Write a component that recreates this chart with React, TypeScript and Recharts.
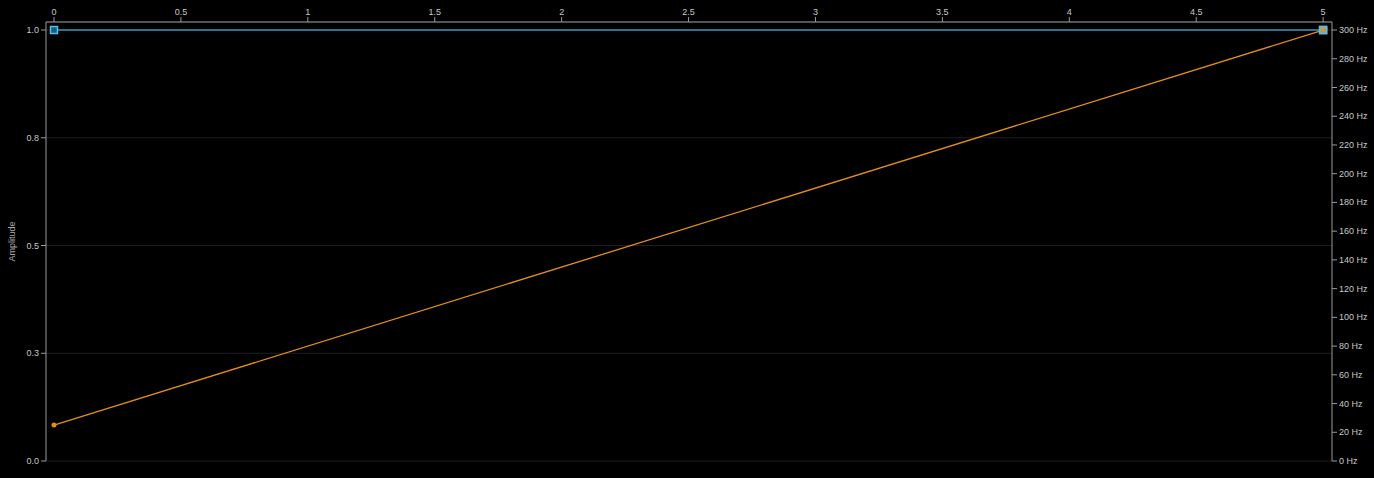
import React from 'react';
import { LineChart, Line, XAxis, YAxis, CartesianGrid } from 'recharts';

const times = [0, 5];
const amplitude = [1, 1];
const frequency = [25, 300];

const timeTicks = [0, 0.5, 1, 1.5, 2, 2.5, 3, 3.5, 4, 4.5, 5];
const ampTicks = [0, 0.25, 0.5, 0.75, 1];
const freqTicks = [0, 20, 40, 60, 80, 100, 120, 140, 160, 180, 200, 220, 240, 260, 280, 300];

const data = times.map((t, i) => ({ t, amp: amplitude[i], freq: frequency[i] }));

const BLUE = '#3a93bd';
const ORANGE = '#e38e1a';
const FONT = 'Liberation Sans, Arial, sans-serif';
const TICK = { fill: '#c8c8c8', fontSize: 9, fontFamily: FONT };

const SquareDot = (props: any) => {
  const { cx, cy } = props;
  if (cx == null || cy == null) return null;
  return <rect x={cx - 3.5} y={cy - 3.5} width={7} height={7} fill="#1d5d7c" stroke="#55bdf0" strokeWidth={1.5} />;
};

const FreqDot = (props: any) => {
  const { cx, cy, index } = props;
  if (cx == null || cy == null) return null;
  if (index === data.length - 1) {
    return <rect x={cx - 3.5} y={cy - 3.5} width={7} height={7} fill="#c99a3c" stroke="#55bdf0" strokeWidth={1.5} />;
  }
  return <circle cx={cx} cy={cy} r={2.5} fill={ORANGE} stroke="none" />;
};

// plain text tick so "300 Hz" never wraps in the narrow axis
const HzTick = (props: any) => {
  const { x, y, payload } = props;
  return (
    <text x={x} y={y} dy={3} textAnchor="start" fill="#c8c8c8" fontSize={9} fontFamily={FONT}>
      {`${payload.value} Hz`}
    </text>
  );
};

const App: React.FC = () => {
  return (
    <div style={{ width: 1374, height: 478, background: '#000' }}>
      <style>{`body{margin:0;background:#000}`}</style>
      <LineChart width={1374} height={478} data={data} margin={{ top: 0, right: 0, bottom: 17, left: 0 }}>
        <CartesianGrid yAxisId="left" horizontal vertical={false} stroke="#1e1e1e" />
        <XAxis
          dataKey="t"
          type="number"
          orientation="top"
          domain={[-0.0315, 5.035]}
          ticks={timeTicks}
          height={22}
          stroke="#9a9a9a"
          tick={TICK}
          tickSize={5}
          allowDataOverflow
        />
        <YAxis
          yAxisId="left"
          orientation="left"
          domain={[0, 1.0186]}
          ticks={ampTicks}
          tickFormatter={(v: number) => v.toFixed(1)}
          width={46}
          stroke="#9a9a9a"
          tick={TICK}
          tickSize={5}
          allowDataOverflow
          label={{ value: 'Amplitude', angle: -90, position: 'insideLeft', offset: 12, style: { fill: '#a8a8a8', fontSize: 9, fontFamily: FONT, textAnchor: 'middle' } }}
        />
        <YAxis
          yAxisId="right"
          orientation="right"
          domain={[0, 305.6]}
          ticks={freqTicks}
          width={42}
          stroke="#9a9a9a"
          tick={<HzTick />}
          tickSize={5}
          allowDataOverflow
        />
        <Line
          yAxisId="left"
          dataKey="amp"
          stroke={BLUE}
          strokeWidth={1.5}
          dot={<SquareDot />}
          activeDot={false}
          isAnimationActive={false}
        />
        <Line
          yAxisId="right"
          dataKey="freq"
          stroke={ORANGE}
          strokeWidth={1.3}
          dot={<FreqDot />}
          activeDot={false}
          isAnimationActive={false}
        />
      </LineChart>
    </div>
  );
};

export default App;
